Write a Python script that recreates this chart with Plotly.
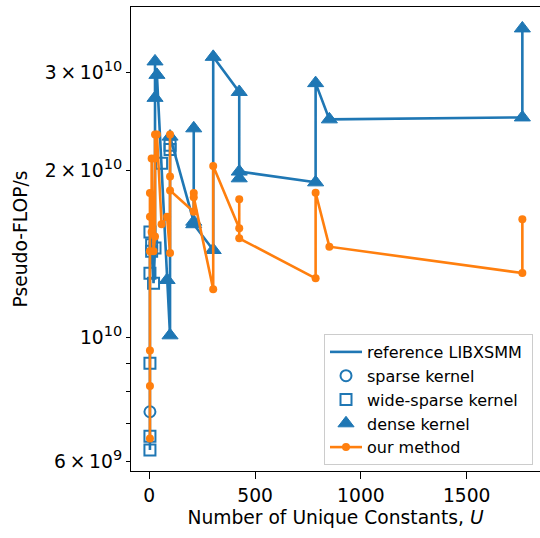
import plotly.graph_objects as go

# Benchmark results, ordered by the number of unique constants U.
# Each entry is one test case measured with both code generators.
unique_constants = [
    3, 3, 3, 3, 3, 3,
    11, 11,
    20,
    27, 27, 27,
    36,
    58,
    84,
    98, 98, 98, 98,
    210, 210, 210,
    302, 302,
    425, 425, 425,
    786, 786,
    851,
    1763, 1763,
]
# Reference LIBXSMM throughput (pseudo-FLOP/s)
libxsmm_flops = [
    6.28e9, 6.65e9, 7.36e9, 9.0e9, 1.306e10, 1.55e10,
    1.43e10, 1.47e10,
    1.253e10,
    1.45e10, 3.14e10, 2.70e10,
    2.97e10,
    2.06e10,
    1.27e10,
    1.01e10, 2.18e10, 2.22e10, 2.30e10,
    1.617e10, 2.38e10, 1.60e10,
    1.438e10, 3.20e10,
    2.767e10, 1.935e10, 1.99e10,
    1.903e10, 2.87e10,
    2.47e10,
    2.49e10, 3.60e10,
]
# Kernel LIBXSMM picked for each case: S = sparse, W = wide-sparse, D = dense
libxsmm_kernel = [
    "W", "W", "S", "W", "W", "W",
    "W", "W",
    "W",
    "W", "D", "D",
    "D",
    "W",
    "D",
    "D", "W", "W", "D",
    "D", "D", "D",
    "D", "D",
    "D", "D", "D",
    "D", "D",
    "D",
    "D", "D",
]
# Our generated code throughput (pseudo-FLOP/s)
our_flops = [
    6.59e9, 8.19e9, 9.48e9, 1.43e10, 1.65e10, 1.82e10,
    1.55e10, 2.10e10,
    1.43e10,
    1.52e10, 2.32e10, 2.10e10,
    2.32e10,
    1.60e10,
    1.65e10,
    1.42e10, 2.32e10, 1.95e10, 1.84e10,
    1.685e10, 1.82e10, 1.79e10,
    1.222e10, 2.036e10,
    1.573e10, 1.775e10, 1.509e10,
    1.279e10, 1.823e10,
    1.458e10,
    1.307e10, 1.633e10,
]

x_ticks = [0, 500, 1000, 1500]
y_ticks = [6e9, 1e10, 2e10, 3e10]
SUP = "<sup><span style='font-size:14.5px'>{}</span></sup>"
y_tick_labels = ["6\u2009×\u200910" + SUP.format(9), "10" + SUP.format(10),
                 "2\u2009×\u200910" + SUP.format(10), "3\u2009×\u200910" + SUP.format(10)]
y_minor_ticks = [7e9, 8e9, 9e9]

BLUE = "#1f77b4"
ORANGE = "#ff7f0e"
FONT = "DejaVu Sans"


def pick(kind):
    xs = [u for u, k in zip(unique_constants, libxsmm_kernel) if k == kind]
    ys = [v for v, k in zip(libxsmm_flops, libxsmm_kernel) if k == kind]
    return xs, ys


fig = go.Figure()

fig.add_trace(go.Scatter(
    x=unique_constants, y=libxsmm_flops, mode="lines",
    line=dict(color=BLUE, width=2.6), name="reference LIBXSMM\u00a0",
))

xs, ys = pick("S")
fig.add_trace(go.Scatter(
    x=xs, y=ys, mode="markers", name="sparse kernel",
    marker=dict(symbol="circle-open", size=11, color=BLUE, line=dict(width=2, color=BLUE)),
))
xs, ys = pick("W")
fig.add_trace(go.Scatter(
    x=xs, y=ys, mode="markers", name="wide-sparse kernel",
    marker=dict(symbol="square-open", size=11, color=BLUE, line=dict(width=2, color=BLUE)),
))
xs, ys = pick("D")
fig.add_trace(go.Scatter(
    x=xs, y=ys, mode="markers", name="dense kernel",
    marker=dict(symbol="triangle-up", size=14, color=BLUE, line=dict(width=1, color=BLUE)),
))

fig.add_trace(go.Scatter(
    x=unique_constants, y=our_flops, mode="lines+markers", name="our method",
    line=dict(color=ORANGE, width=2.6),
    marker=dict(symbol="circle", size=8, color=ORANGE),
))

W, H = 540, 538
L, R, T, B = 131, 0, 7, 67

fig.update_layout(
    width=W, height=H,
    margin=dict(l=L, r=R, t=T, b=B, pad=0),
    paper_bgcolor="white", plot_bgcolor="white",
    font=dict(family=FONT, size=18.7, color="black"),
    showlegend=True,
    legend=dict(
        x=(533 - L) / (W - L - R), y=(H - B - 465) / (H - T - B),
        xanchor="right", yanchor="bottom",
        bgcolor="rgba(255,255,255,0.8)", bordercolor="#cccccc", borderwidth=1,
        font=dict(family=FONT, size=16, color="black"),
        itemwidth=32, traceorder="normal",
    ),
    xaxis=dict(
        range=[-86.5, 1846.4], tickvals=x_ticks, ticks="outside", ticklen=7,
        tickwidth=1.3, tickcolor="black", showline=True, linecolor="black",
        linewidth=1.3, mirror=True, showgrid=False, zeroline=False,
        tickfont=dict(family=FONT, size=18.7),
        title=dict(text="Number of Unique Constants, <i>U</i>",
                   font=dict(family=FONT, size=18.7), standoff=6),
    ),
    yaxis=dict(
        type="log", range=[9.7603, 10.5948], tickvals=y_ticks, ticktext=y_tick_labels,
        ticks="outside", ticklen=4, tickwidth=1.3, tickcolor="black",
        showline=True, linecolor="black", linewidth=1.3, showgrid=False,
        zeroline=False, tickfont=dict(family=FONT, size=18.7),
        minor=dict(tickvals=y_minor_ticks, ticks="outside", ticklen=4,
                   tickwidth=1.3, tickcolor="black", showgrid=False),
        title=dict(text="Pseudo-FLOP/s", font=dict(family=FONT, size=18.7), standoff=12),
    ),
    yaxis2=dict(
        type="log", range=[9.7603, 10.5948], overlaying="y", side="left",
        anchor="x", tickvals=[1e10], ticks="outside", ticklen=7, tickwidth=1.3,
        tickcolor="black", showticklabels=False, showline=False, showgrid=False,
        zeroline=False,
    ),
)

fig.write_html("out.html")
